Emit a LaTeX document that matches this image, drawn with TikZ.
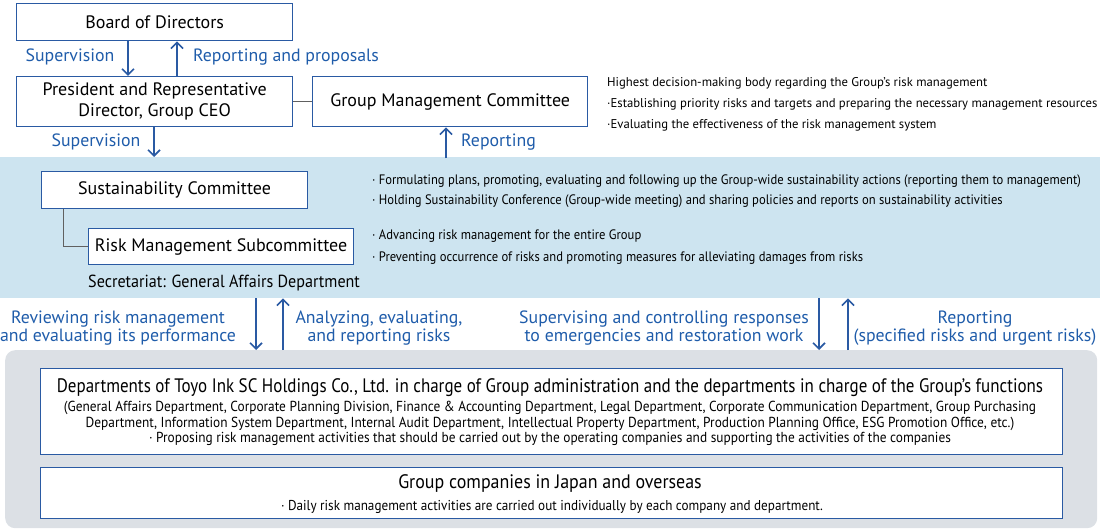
\documentclass[tikz,border=0pt]{standalone}
\usepackage{fontspec}
\setmainfont{PT Sans}
\newfontfamily\cond[FakeStretch=0.92]{PT Sans}
\usetikzlibrary{arrows.meta,calc}
\definecolor{boxblue}{HTML}{2A5AA3}
\definecolor{lblblue}{HTML}{1F5CAA}
\definecolor{bandblue}{HTML}{CDE4F0}
\definecolor{bandgray}{HTML}{DCE0E5}
\definecolor{linegray}{HTML}{606060}
\tikzset{
  box/.style={draw=boxblue, line width=1.4pt, fill=white, align=center, inner sep=0pt,
    font=\fontsize{18}{21}\selectfont},
  lbl/.style={text=lblblue, font=\fontsize{17.8}{18.5}\selectfont, align=center, inner sep=0pt},
  note/.style={font=\fontsize{12.7}{15}\selectfont, anchor=west, inner sep=0pt},
  bnote/.style={font=\cond\fontsize{13.7}{15}\selectfont, anchor=west, inner sep=0pt},
  intext/.style={inner sep=0pt, align=center},
  arr/.style={draw=boxblue, line width=1.6pt, -{Straight Barb[length=6pt,width=12pt,line width=1.6pt]}},
  conn/.style={draw=linegray, line width=0.8pt}
}
\begin{document}
\begin{tikzpicture}[x=1pt,y=-1pt]
\useasboundingbox (0,0) rectangle (1100,529);
% bands
\node[fill=bandblue, minimum width=1100pt, minimum height=141pt, inner sep=0pt, anchor=north west] (band) at (0,157) {};
\node[fill=bandgray, rounded corners=10pt, minimum width=1092pt, minimum height=178pt, inner sep=0pt, anchor=north west] (gray) at (5,350) {};
% top boxes
\node[box, minimum width=276pt, minimum height=37pt, anchor=north west] (bod) at (16,3) {Board of Directors};
\node[box, minimum width=276pt, minimum height=50pt, anchor=north west] (pres) at (16,76) {President and Representative\\Director, Group CEO};
\node[box, minimum width=275pt, minimum height=50pt, anchor=north west] (gmc) at (312,76) {Group Management Committee};
\draw[conn] (pres.east) -- (gmc.west);
% arrows top
\draw[arr] (bod.south west) ++(112,0) coordinate (a1) -- (a1 |- pres.north);
\draw[arr] (pres.north west) ++(161,0) coordinate (a2) -- (a2 |- bod.south);
\node[lbl] (l1) at (70,57) {Supervision};
\node[lbl, anchor=west] (l2) at (193,57) {Reporting and proposals};
\draw[arr] (pres.south west) ++(138,0) coordinate (a3) -- (a3 |- band.north);
\draw[arr] (gmc.south west) ++(134,0) coordinate (a4) ++(0,31) coordinate (a4b) (a4b) -- (a4);
\node[lbl] (l3) at (96,142) {Supervision};
\node[lbl, anchor=west] (l4) at (461,142) {Reporting};
% right notes
\node[note] (n1) at (607,83) {Highest decision-making body regarding the Group’s risk management};
\node[note] (n2) at (607,104) {·Establishing priority risks and targets and preparing the necessary management resources};
\node[note] (n3) at (607,125) {·Evaluating the effectiveness of the risk management system};
% band contents
\node[box, minimum width=266pt, minimum height=37pt, anchor=north west, line width=1.2pt] (sc) at (41,171) {Sustainability Committee};
\node[box, minimum width=265pt, minimum height=36pt, anchor=north west, line width=1.2pt] (rms) at (88,228) {Risk Management Subcommittee};
\draw[conn] (sc.south west) ++(22,0) coordinate (c1) -- (c1 |- rms.west) -- (rms.west);
\node[font=\cond\fontsize{17.5}{19}\selectfont, anchor=west, inner sep=0pt] (sec) at (88,283) {Secretariat: General Affairs Department};
\node[bnote] (b1) at (372,181) {· Formulating plans, promoting, evaluating and following up the Group-wide sustainability actions (reporting them to management)};
\node[bnote] (b2) at (372,201) {· Holding Sustainability Conference (Group-wide meeting) and sharing policies and reports on sustainability activities};
\node[bnote] (b3) at (372,236) {· Advancing risk management for the entire Group};
\node[bnote] (b4) at (372,258) {· Preventing occurrence of risks and promoting measures for alleviating damages from risks};
% middle arrows
\draw[arr] (256,0 |- band.south) -- (256,0 |- gray.north);
\draw[arr] (283,0 |- gray.north) -- (283,0 |- band.south);
\draw[arr] (819,0 |- band.south) -- (819,0 |- gray.north);
\draw[arr] (848,0 |- gray.north) -- (848,0 |- band.south);
\node[lbl] (m1) at (118,328) {Reviewing risk management\\and evaluating its performance};
\node[lbl] (m2) at (379,328) {Analyzing, evaluating,\\and reporting risks};
\node[lbl] (m3) at (664,328) {Supervising and controlling responses\\to emergencies and restoration work};
\node[lbl] (m4) at (975,328) {Reporting\\(specified risks and urgent risks)};
% bottom boxes
\node[box, minimum width=1022pt, minimum height=86pt, anchor=north west, line width=1.2pt] (dept) at (40,368) {};
\node[intext, font=\cond\fontsize{19.5}{21}\selectfont] (dt) at (550,388) {\scalebox{0.947}[1]{Departments of Toyo Ink SC Holdings Co., Ltd. in charge of Group administration and the departments in charge of the Group’s functions}};
\node[intext, font=\cond\fontsize{14.5}{15.6}\selectfont] (dl) at (550,423.5) {(General Affairs Department, Corporate Planning Division, Finance \& Accounting Department, Legal Department, Corporate Communication Department, Group Purchasing\\
  Department, Information System Department, Internal Audit Department, Intellectual Property Department, Production Planning Office, ESG Promotion Office, etc.)\\
  · Proposing risk management activities that should be carried out by the operating companies and supporting the activities of the companies};
\node[box, minimum width=1022pt, minimum height=51pt, anchor=north west, line width=1.2pt] (grp) at (40,467) {};
\node[intext, font=\cond\fontsize{19.5}{21}\selectfont] (gt) at (550,484) {Group companies in Japan and overseas};
\node[intext, font=\cond\fontsize{14.3}{16}\selectfont] (gl) at (552,507) {· Daily risk management activities are carried out individually by each company and department.};
\end{tikzpicture}
\end{document}
